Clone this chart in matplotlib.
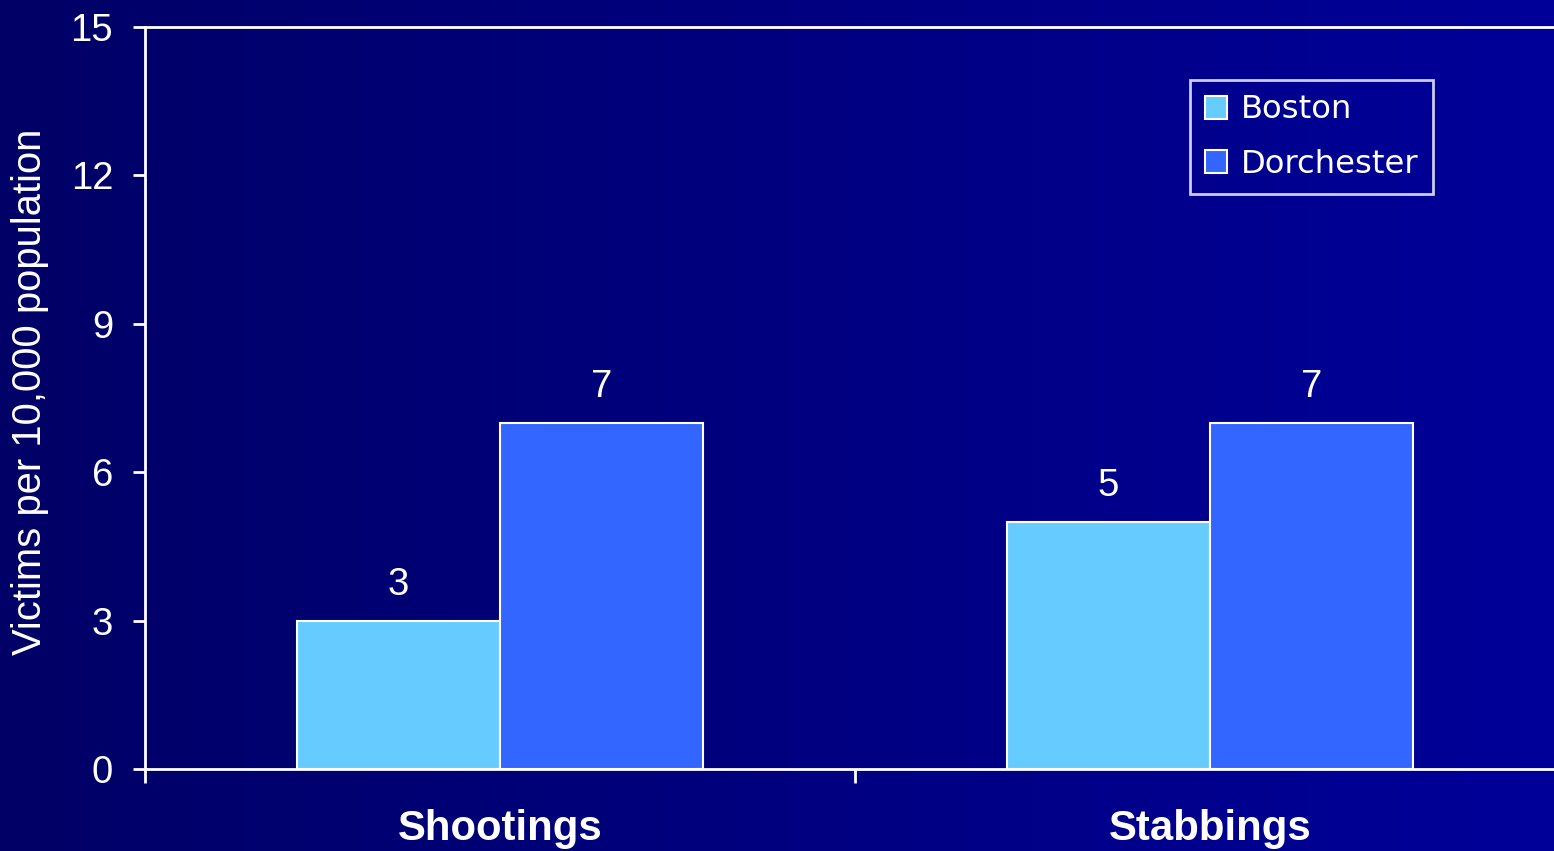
import numpy as np
import matplotlib
matplotlib.use("Agg")
import matplotlib.pyplot as plt
from matplotlib.colors import LinearSegmentedColormap

categories = ["Shootings", "Stabbings"]
series_names = ["Boston", "Dorchester"]
boston = [3, 5]
dorchester = [7, 7]
yticks = [0, 3, 6, 9, 12, 15]
ylabel = "Victims per 10,000 population"

W, H = 1554, 851
fig = plt.figure(figsize=(W / 100, H / 100), dpi=100)

# background horizontal gradient
bg = fig.add_axes([0, 0, 1, 1], zorder=-10)
cmap = LinearSegmentedColormap.from_list("bg", ["#000066", "#000099"])
bg.imshow(np.linspace(0, 1, 256)[None, :], cmap=cmap, aspect="auto", extent=[0, 1, 0, 1])
bg.set_axis_off()

left = 145 / W
right = 1565 / W
bottom = (H - 769) / H
top = (H - 27) / H
ax = fig.add_axes([left, bottom, right - left, top - bottom])
ax.set_facecolor("none")

x = np.arange(len(categories))
bw = 0.286
b1 = ax.bar(x - bw / 2, boston, bw, color="#66CCFF", edgecolor="white", linewidth=1.5, label=series_names[0])
b2 = ax.bar(x + bw / 2, dorchester, bw, color="#3366FF", edgecolor="white", linewidth=1.5, label=series_names[1])

FONT = "Liberation Sans"
for bars in (b1, b2):
    ax.bar_label(bars, padding=13, color="white", fontsize=27.5, family=FONT)

ax.set_xlim(-0.5, 1.5)
ax.set_ylim(0, 15)
ax.set_yticks(yticks)
ax.set_yticklabels([str(v) for v in yticks], family=FONT, fontsize=27.5, color="white")

ax.set_xticks([-0.5, 0.5, 1.5])
ax.set_xticklabels([])
ax.set_xticks(x, minor=True)
ax.set_xticklabels(categories, minor=True, family=FONT, fontsize=30.2, fontweight="bold", color="white")
ax.tick_params(axis="x", which="major", length=10, width=2, color="white", direction="out")
ax.tick_params(axis="x", which="minor", length=0, pad=29)
ax.tick_params(axis="y", length=9, width=2, color="white", direction="out", pad=14)

for s in ["left", "top", "bottom", "right"]:
    ax.spines[s].set_color("white")
    ax.spines[s].set_linewidth(2)
ax.spines["right"].set_visible(False)

fig.text(30 / W, 1 - 392 / H, ylabel, rotation=90, ha="center", va="center",
         color="white", fontsize=28.8, family=FONT)

leg = ax.legend(loc="upper left", bbox_to_anchor=(1190 / W, 1 - 80 / H),
                bbox_transform=fig.transFigure, borderaxespad=0,
                prop={"family": "DejaVu Sans", "size": 23.2},
                frameon=True, fancybox=False, facecolor="none", edgecolor="white",
                handlelength=0.7, handleheight=0.7, handletextpad=0.42,
                labelspacing=0.72, borderpad=0.45)
leg.get_frame().set_linewidth(2)
for t in leg.get_texts():
    t.set_color("white")

fig.savefig("out.png", dpi=100)
